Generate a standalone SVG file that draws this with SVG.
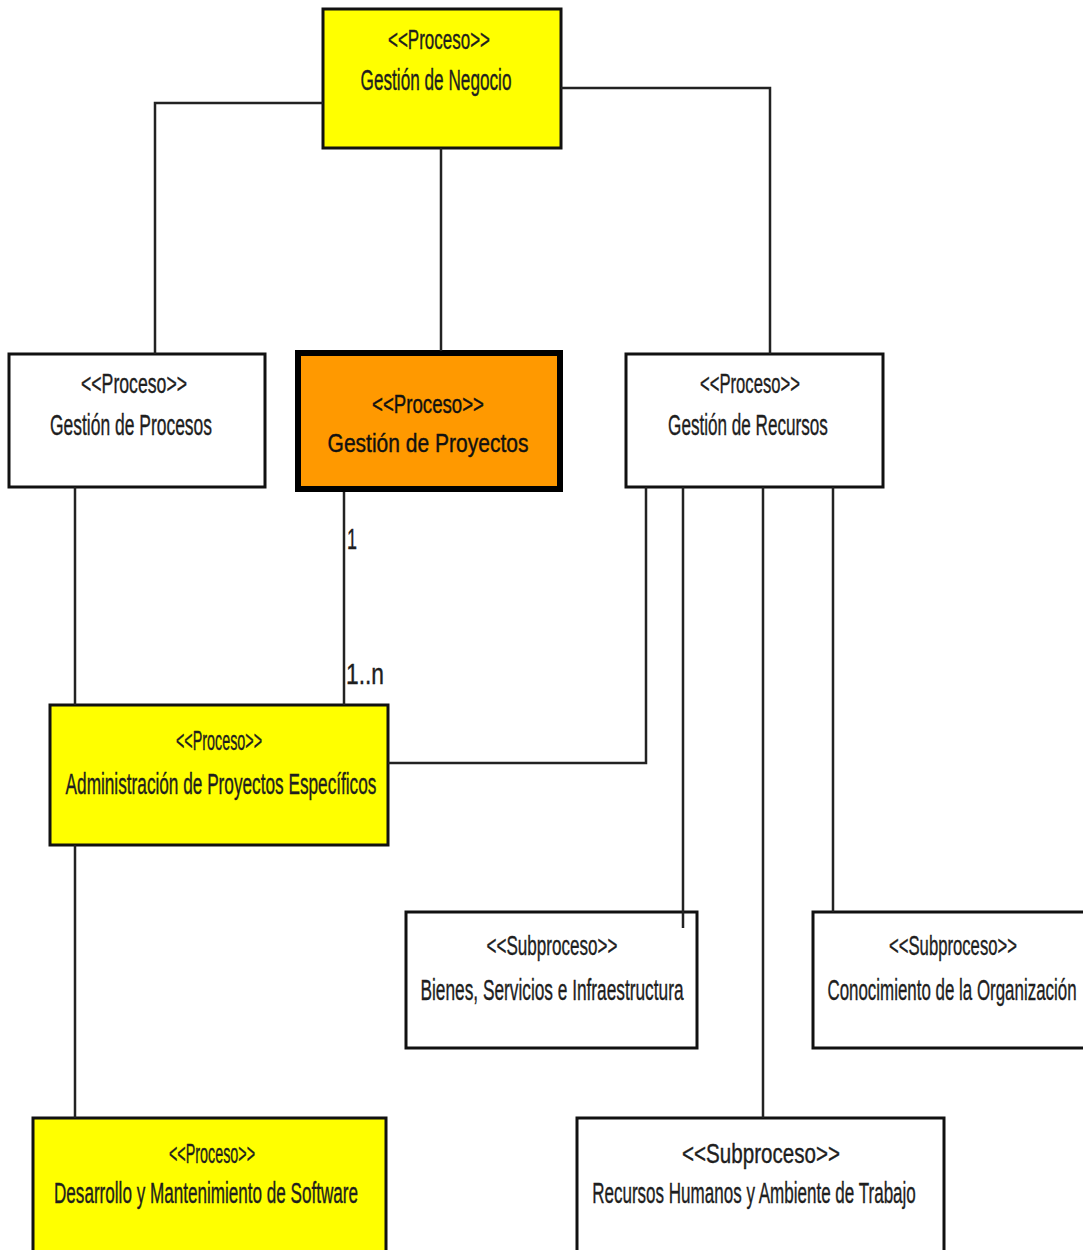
<svg xmlns="http://www.w3.org/2000/svg" width="1083" height="1250" viewBox="0 0 1083 1250">
<style>
.box{stroke:#111;stroke-width:3}
.y{fill:#ffff00}
.w{fill:#ffffff}
.o{fill:#ff9900;stroke:#000;stroke-width:6}
text{font-family:"Liberation Sans",Arial,sans-serif;fill:#1e1e1e;text-anchor:middle;stroke:#1e1e1e;stroke-width:0.4}
.st{font-size:28px}
.nm{font-size:30px}
.pb{font-size:25px;fill:#111;stroke:#111;stroke-width:0.4}
.lbl{font-size:30px;text-anchor:start}
.conn{stroke:#222;stroke-width:2.5;fill:none}
</style>
<rect width="1083" height="1250" fill="#fff"/>
<g id="negocio">
<rect class="box y" x="323" y="9" width="238" height="139"/>
<text class="st" transform="translate(439,49) scale(0.607,1)">&lt;&lt;Proceso&gt;&gt;</text>
<text class="nm" transform="translate(436,90) scale(0.573,1)">Gestión de Negocio</text>
</g>
<g id="procesos">
<rect class="box w" x="9" y="354" width="256" height="133"/>
<text class="st" transform="translate(134,393) scale(0.631,1)">&lt;&lt;Proceso&gt;&gt;</text>
<text class="nm" transform="translate(131,435) scale(0.582,1)">Gestión de Procesos</text>
</g>
<g id="proyectos">
<rect class="o" x="298" y="353" width="262" height="136"/>
<text class="pb" transform="translate(428,413) scale(0.746,1)">&lt;&lt;Proceso&gt;&gt;</text>
<text class="pb" transform="translate(428,452) scale(0.841,1)">Gestión de Proyectos</text>
</g>
<g id="recursos">
<rect class="box w" x="626" y="354" width="257" height="133"/>
<text class="st" transform="translate(750,393) scale(0.595,1)">&lt;&lt;Proceso&gt;&gt;</text>
<text class="nm" transform="translate(748,435) scale(0.571,1)">Gestión de Recursos</text>
</g>
<g id="administracion">
<rect class="box y" x="50" y="705" width="338" height="140"/>
<text class="st" transform="translate(219,750) scale(0.512,1)">&lt;&lt;Proceso&gt;&gt;</text>
<text class="nm" transform="translate(221,794) scale(0.574,1)">Administración de Proyectos Específicos</text>
</g>
<g id="bienes">
<rect class="box w" x="406" y="912" width="291" height="136"/>
<text class="st" transform="translate(552,955) scale(0.61,1)">&lt;&lt;Subproceso&gt;&gt;</text>
<text class="nm" transform="translate(552,1000) scale(0.576,1)">Bienes, Servicios e Infraestructura</text>
</g>
<g id="conocimiento">
<rect class="box w" x="813" y="912" width="275" height="136"/>
<text class="st" transform="translate(953,955) scale(0.596,1)">&lt;&lt;Subproceso&gt;&gt;</text>
<text class="nm" transform="translate(952,1000) scale(0.564,1)">Conocimiento de la Organización</text>
</g>
<g id="desarrollo">
<rect class="box y" x="33" y="1118" width="353" height="136"/>
<text class="st" transform="translate(212,1163) scale(0.512,1)">&lt;&lt;Proceso&gt;&gt;</text>
<text class="nm" transform="translate(206,1203) scale(0.57,1)">Desarrollo y Mantenimiento de Software</text>
</g>
<g id="rrhh">
<rect class="box w" x="577" y="1118" width="367" height="136"/>
<text class="st" transform="translate(761,1163) scale(0.736,1)">&lt;&lt;Subproceso&gt;&gt;</text>
<text class="nm" transform="translate(754,1203) scale(0.568,1)">Recursos Humanos y Ambiente de Trabajo</text>
</g>
<g id="connectors">
<polyline class="conn" points="323,103 155,103 155,354"/>
<line class="conn" x1="441" y1="148" x2="441" y2="351"/>
<polyline class="conn" points="561,88 770,88 770,354"/>
<line class="conn" x1="75" y1="487" x2="75" y2="705"/>
<line class="conn" x1="344" y1="492" x2="344" y2="705"/>
<polyline class="conn" points="646,487 646,763 388,763"/>
<line class="conn" x1="683" y1="487" x2="683" y2="928"/>
<line class="conn" x1="763" y1="487" x2="763" y2="1118"/>
<line class="conn" x1="833" y1="487" x2="833" y2="912"/>
<line class="conn" x1="75" y1="845" x2="75" y2="1118"/>
<text class="lbl" transform="translate(347,549) scale(0.6,1)">1</text>
<text class="lbl" transform="translate(346,684) scale(0.76,1)">1..n</text>
</g>
</svg>
